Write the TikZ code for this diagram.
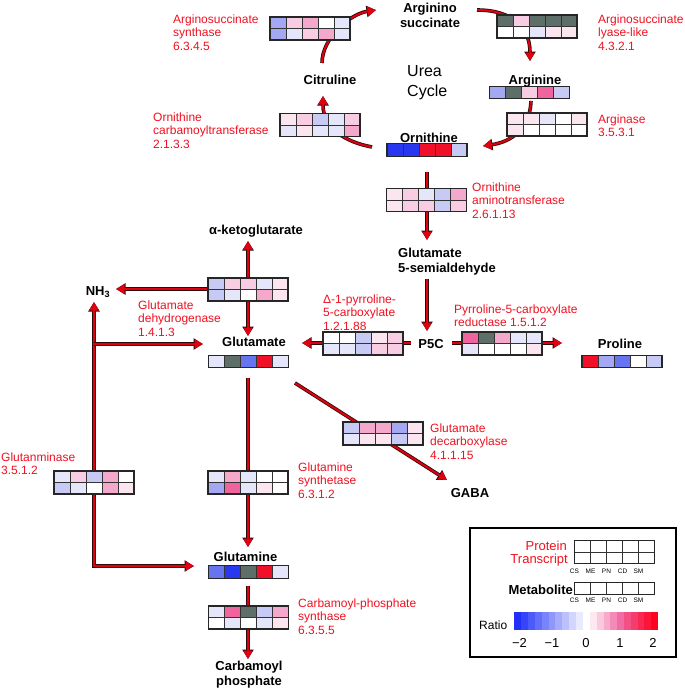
\documentclass[tikz,border=0pt]{standalone}
\usepackage{fontspec}
\setmainfont{Liberation Sans}
\usetikzlibrary{arrows.meta,calc}
\definecolor{arr}{HTML}{E00010}
\definecolor{arro}{HTML}{2A0A0A}
\definecolor{lab}{HTML}{F01020}
\definecolor{cA}{HTML}{5E6E69}
\definecolor{cB}{HTML}{2838F0}
\definecolor{cM}{HTML}{6674F0}
\definecolor{cL}{HTML}{A4A8F2}
\definecolor{cl}{HTML}{C8CAF6}
\definecolor{cv}{HTML}{E6E6FA}
\definecolor{cW}{HTML}{FFFFFF}
\definecolor{pv}{HTML}{FBE6F0}
\definecolor{pl}{HTML}{F8CCE2}
\definecolor{pp}{HTML}{F4A8CC}
\definecolor{ph}{HTML}{F0649E}
\definecolor{cR}{HTML}{F01028}
\definecolor{lgb}{HTML}{2030F8}
\definecolor{lgr}{HTML}{FF0020}
\tikzset{
  cellb/.style={draw=black!80, line width=0.8pt},
  hmframe/.style={draw=black!85, line width=1.3pt, inner sep=0pt, fill=none},
  flow/.style={draw=arr, line width=2pt, -{Triangle[length=8.5pt,width=9pt]},
    preaction={draw=arro, line width=3.6pt, -{Triangle[length=9.5pt,width=11pt]}}},
  flowboth/.style={draw=arr, line width=2pt, {Triangle[length=8.5pt,width=9pt]}-{Triangle[length=8.5pt,width=9pt]},
    preaction={draw=arro, line width=3.6pt, {Triangle[length=9.5pt,width=11pt]}-{Triangle[length=9.5pt,width=11pt]}}},
  enz/.style={text=lab, font=\fontsize{12}{13.5}\selectfont, align=left, anchor=base west, inner sep=0pt},
  met/.style={font=\bfseries\fontsize{13}{14.5}\selectfont, align=center, anchor=base, inner sep=0pt},
  leg/.style={font=\fontsize{13}{15}\selectfont, inner sep=0pt},
  tiny/.style={font=\fontsize{6.5}{7}\selectfont, anchor=base, inner sep=0pt},
}
\newcommand{\hmbox}[5]{%
  \foreach \c [count=\i] in {#4} {\filldraw[fill=\c, cellb] ({#2-56+16*\i},{#3-11.5}) rectangle ++(16,11.5);}
  \foreach \c [count=\i] in {#5} {\filldraw[fill=\c, cellb] ({#2-56+16*\i},{#3}) rectangle ++(16,11.5);}
  \node[hmframe, minimum width=80pt, minimum height=23pt] (#1) at (#2,#3) {};
}
\newcommand{\mbar}[4]{%
  \foreach \c [count=\i] in {#4} {\filldraw[fill=\c, cellb] ({#2-56+16*\i},{#3-6.25}) rectangle ++(16,12.5);}
  \node[hmframe, minimum width=80pt, minimum height=12.5pt] (#1) at (#2,#3) {};
}
\begin{document}
\begin{tikzpicture}[x=1pt,y=-1pt]
\useasboundingbox (0,0) rectangle (685,691);
% ---------- arrow coordinates ----------
\coordinate (c1s) at (322,63);   \coordinate (c1e) at (376,10);
\coordinate (c2s) at (477,10);   \coordinate (c2e) at (530,61);
\coordinate (c3s) at (531,101);  \coordinate (c3e) at (483,146);
\coordinate (c4s) at (372,147);  \coordinate (c4e) at (323,96);
\coordinate (oats) at (427,172); \coordinate (oate) at (427,240);
\coordinate (gsas) at (427,279); \coordinate (gsae) at (427,331);
\coordinate (p5l) at (411,343);  \coordinate (p5le) at (302,343);
\coordinate (p5r) at (452,343);  \coordinate (p5re) at (562,343);
\coordinate (gdhc) at (248,289);
\coordinate (akge) at (248,241);
\coordinate (glue) at (248,336);
\coordinate (nh3e) at (116,289);
\coordinate (gnt) at (94,302);
\coordinate (gnb) at (94,566);
\coordinate (gnr) at (194,566);
\coordinate (gnm) at (94,344);
\coordinate (gnme) at (203,344);
\coordinate (gss) at (248,378);  \coordinate (gse) at (248,547);
\coordinate (cpss) at (248,586); \coordinate (cpse) at (248,659);
\coordinate (gads) at (295,383); \coordinate (gade) at (447,480);
% ---------- arrows ----------
\draw[flow] (c1s) .. controls (322,38) and (350,14) .. (c1e);
\draw[flow] (c2s) .. controls (515,10) and (530,30) .. (c2e);
\draw[flow] (c3s) .. controls (530,130) and (510,142) .. (c3e);
\draw[flow] (c4s) .. controls (345,142) and (323,128) .. (c4e);
\draw[flow] (oats) -- (oate);
\draw[flow] (gsas) -- (gsae);
\draw[flow] (p5l) -- (p5le);
\draw[flow] (p5r) -- (p5re);
\draw[flow] (gdhc) -- (akge);
\draw[flow] (gdhc) -- (glue);
\draw[flow] (gdhc) -- (nh3e);
\draw[flowboth] (gnt) -- (gnb) -- (gnr);
\draw[flow] (gnm) -- (gnme);
\draw[flow] (gss) -- (gse);
\draw[flow] (cpss) -- (cpse);
\draw[flow] (gads) -- (gade);
% ---------- heat boxes ----------
\hmbox{ass}{310}{28.5}{cL,pl,pp,cW,cv}{cL,cv,pl,pp,cv}
\hmbox{asl}{537}{26.5}{cA,pl,cA,cA,cA}{cW,cW,cv,pv,pv}
\hmbox{arg}{547}{124.5}{pv,pv,cv,cW,pv}{pv,cW,cW,cW,cW}
\hmbox{oct}{320}{125}{pv,pl,cl,cv,pl}{cv,pv,cv,cv,pp}
\hmbox{oat}{426.5}{200}{pv,pl,cv,cl,pp}{pv,pl,pl,cl,pl}
\hmbox{gdh}{248}{289.5}{cl,pl,pl,cv,pv}{cl,cv,cW,pp,pv}
\hmbox{dp}{363}{343.5}{cW,cW,cl,pv,pl}{cv,cv,cl,pl,pl}
\hmbox{pcr}{502}{343.5}{ph,cA,pp,cv,cv}{cv,cW,cW,cW,pv}
\hmbox{gls}{94}{482.5}{cv,pl,cl,pp,cW}{cl,cv,cW,pp,pv}
\hmbox{gs}{248}{482.5}{cv,pp,cv,cW,cW}{cL,ph,cv,pv,cW}
\hmbox{gad}{383}{433.5}{cl,pp,pp,cL,pv}{cv,pv,pv,cl,pv}
\hmbox{cps}{248.5}{617.5}{cv,ph,cA,cl,pp}{cW,cv,cW,cv,pv}
% ---------- metabolite bars ----------
\mbar{argb}{529.5}{92.5}{cL,cA,pl,ph,cl}
\mbar{ornb}{427}{150}{cB,cB,cR,cR,cl}
\mbar{glub}{248.5}{361.5}{cv,cA,cM,cR,cv}
\mbar{prob}{622}{361.5}{cR,cL,cM,cW,cl}
\mbar{glnb}{248.5}{572}{cM,cB,cA,cR,cv}
% ---------- metabolite names ----------
\node[met] (argsuc) at (430,27) {Arginino\\succinate};
\node[met] (cit) at (330,84) {Citruline};
\node[met] (argn) at (535,84) {Arginine};
\node[met] (orn) at (429,142) {Ornithine};
\node[font=\fontsize{16}{20}\selectfont, align=left, anchor=base west, inner sep=0pt] (urea) at (407,96) {Urea\\Cycle};
\node[met, align=left, anchor=base west] (gsa) at (398,272) {Glutamate\\5-semialdehyde};
\node[met] (p5c) at (431,348) {P5C};
\node[met] (pro) at (620,348) {Proline};
\node[met] (glu) at (254,346) {Glutamate};
\node[met] (akg) at (256,234) {α-ketoglutarate};
\node[met] (nh3) at (98,295) {NH\textsubscript{3}};
\node[met] (gaba) at (470,497) {GABA};
\node[met] (gln) at (245.5,561) {Glutamine};
\node[met, font=\bfseries\fontsize{13}{15}\selectfont] (cp) at (249,685) {Carbamoyl\\phosphate};
% ---------- enzyme labels ----------
\node[enz] (lass) at (173,50) {Arginosuccinate\\synthase\\6.3.4.5};
\node[enz] (lasl) at (598,50) {Arginosuccinate\\lyase-like\\4.3.2.1};
\node[enz] (loct) at (153,148) {Ornithine\\carbamoyltransferase\\2.1.3.3};
\node[enz] (larg) at (598,136.5) {Arginase\\3.5.3.1};
\node[enz] (loat) at (472,218) {Ornithine\\aminotransferase\\2.6.1.13};
\node[enz] (lgdh) at (138,336) {Glutamate\\dehydrogenase\\1.4.1.3};
\node[enz] (ldp) at (323,330) {Δ-1-pyrroline-\\5-carboxylate\\1.2.1.88};
\node[enz] (lpcr) at (454,326.5) {Pyrroline-5-carboxylate\\reductase 1.5.1.2};
\node[enz] (lgls) at (1,474.5) {Glutanminase\\3.5.1.2};
\node[enz] (lgs) at (298,498) {Glutamine\\synthetase\\6.3.1.2};
\node[enz] (lgad) at (430,459) {Glutamate\\decarboxylase\\4.1.1.15};
\node[enz] (lcps) at (298,634) {Carbamoyl-phosphate\\synthase\\6.3.5.5};
% ---------- legend ----------
\node[draw=black, line width=2.6pt, minimum width=206pt, minimum height=129pt, inner sep=0pt] (legend) at (573,592.5) {};
\hmbox{legenz}{614.5}{552}{cW,cW,cW,cW,cW}{cW,cW,cW,cW,cW}
\mbar{legmet}{614.5}{588.5}{cW,cW,cW,cW,cW}
\node[leg, text=lab, anchor=base east] (lprot) at (567,550) {Protein};
\node[leg, text=lab, anchor=base east] (ltran) at (568,563) {Transcript};
\node[leg, font=\bfseries\fontsize{13}{15}\selectfont, anchor=base east] (lmet) at (573,594) {Metabolite};
\foreach \t [count=\i] in {CS,ME,PN,CD,SM} {
  \node[tiny] (la\i) at ({558.5+16*\i},573) {\t};
  \node[tiny] (lb\i) at ({558.5+16*\i},602) {\t};
}
\node[leg, anchor=base west, font=\fontsize{12}{14}\selectfont] (lratio) at (479,629) {Ratio};
\foreach \i in {0,...,9} {
  \pgfmathsetmacro\pc{100-\i*10}
  \fill[lgb!\pc!white] ({514+\i*6.9},612) rectangle ++(7.1,18);
}
\foreach \i in {0,...,9} {
  \pgfmathsetmacro\pc{\i<5 ? 15+\i*20 : (\i-4)*20}
  \ifnum\i<5
    \fill[ph!\pc!white] ({590+\i*6.8},612) rectangle ++(7,18);
  \else
    \fill[lgr!\pc!ph] ({590+\i*6.8},612) rectangle ++(7,18);
  \fi
}
\node[leg, anchor=base] (n1) at (519.5,647) {−2};
\node[leg, anchor=base] (n2) at (552,647) {−1};
\node[leg, anchor=base] (n3) at (586,647) {0};
\node[leg, anchor=base] (n4) at (620,647) {1};
\node[leg, anchor=base] (n5) at (653,647) {2};
\end{tikzpicture}
\end{document}
